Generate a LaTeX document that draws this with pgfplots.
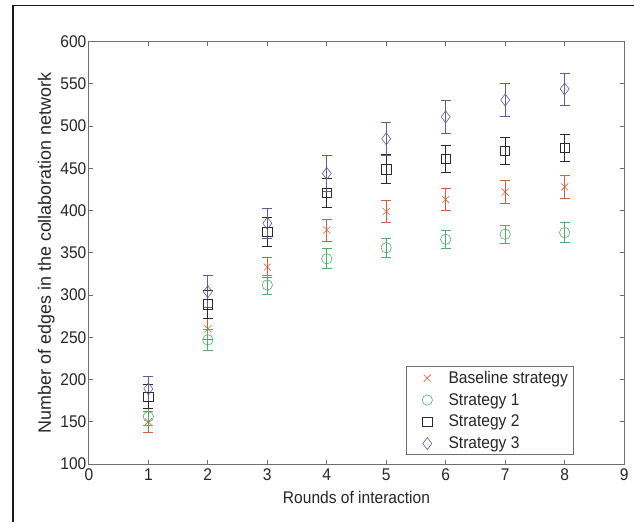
\documentclass[border=0pt]{standalone}
\usepackage{pgfplots}
\pgfplotsset{compat=1.18}
\usepackage{fontspec}
\setmainfont{Liberation Sans}[FakeStretch=0.92]
\newfontfamily\ylabfont{Liberation Sans}
\usetikzlibrary{calc}

\definecolor{cBase}{HTML}{D2603A}
\definecolor{cS1}{HTML}{4FAE6C}
\definecolor{cS2}{HTML}{2A2A2A}
\definecolor{cS3}{HTML}{675896}
\definecolor{axgray}{HTML}{6E6E6E}

\begin{document}
\begin{tikzpicture}
\begin{axis}[
    name=ax,
    scale only axis,
    width=536bp, height=423bp,
    xmin=0, xmax=9,
    ymin=100, ymax=600,
    xtick={0,1,...,9},
    ytick={100,150,...,600},
    tick align=inside,
    major tick length=4bp,
    axis line style={axgray, line width=0.9pt},
    tick style={axgray, line width=0.8pt},
    every tick label/.append style={font=\fontsize{17}{19}\selectfont, text=black!85},
    xticklabel style={yshift=-1.5bp},
    yticklabel style={xshift=1bp},
    /pgf/number format/assume math mode=true,
    xlabel={Rounds of interaction},
    ylabel={Number of edges in the collaboration network},
    xlabel style={font=\fontsize{17}{19}\selectfont, text=black!85, yshift=-3bp},
    ylabel style={font=\ylabfont\fontsize{18}{19}\selectfont, text=black!85, yshift=-1bp},
    legend style={at={(0.907,0.021)}, anchor=south east,
        draw=axgray, line width=0.9pt,
        font=\fontsize{17}{19.5}\selectfont, text=black!85,
        row sep=4.5bp, inner xsep=4bp, inner ysep=2.5bp},
    legend cell align=left,
    legend image code/.code={%
        \path (0bp,0bp) (36bp,0bp);
        \draw[mark repeat=2,mark phase=2,#1,only marks]
            plot coordinates {(0bp,0bp) (17bp,0bp) (34bp,0bp)};},
    error bars/y dir=both,
    error bars/y explicit,
    error bars/error bar style={line width=0.8pt},
    error bars/error mark options={rotate=90, mark size=5bp, line width=0.8pt},
]

\addplot[only marks, color=cBase, mark=x, mark size=5bp, line width=0.6pt]
    coordinates {
    (1,150) +- (0,12)
    (2,260) +- (0,12)
    (3,333) +- (0,12)
    (4,377) +- (0,13)
    (5,399) +- (0,13)
    (6,413) +- (0,13)
    (7,422) +- (0,14)
    (8,428) +- (0,14)
    };

\addplot[only marks, color=cS1, mark=o, mark size=5.2bp, line width=0.6pt]
    coordinates {
    (1,156) +- (0,10)
    (2,247) +- (0,12)
    (3,312) +- (0,11)
    (4,343) +- (0,12)
    (5,356) +- (0,11)
    (6,366) +- (0,11)
    (7,372) +- (0,11)
    (8,374) +- (0,12)
    };

\addplot[only marks, color=cS2, mark=square, mark size=4.6bp, line width=0.6pt]
    coordinates {
    (1,180) +- (0,14)
    (2,289) +- (0,17)
    (3,375) +- (0,17)
    (4,421) +- (0,17)
    (5,449) +- (0,17)
    (6,461) +- (0,16)
    (7,471) +- (0,16)
    (8,474) +- (0,16)
    };

\addplot[only marks, color=cS3, mark=diamond, mark size=6bp, line width=0.6pt]
    coordinates {
    (1,189) +- (0,15)
    (2,304) +- (0,19)
    (3,385) +- (0,18)
    (4,444) +- (0,21)
    (5,485) +- (0,20)
    (6,511) +- (0,20)
    (7,531) +- (0,20)
    (8,544) +- (0,19)
    };

\legend{Baseline strategy, Strategy 1, Strategy 2, Strategy 3}
\end{axis}

% outer frame of the original figure
\draw[black!90, line width=1.8bp]
    ($(ax.south west)+(-76bp,-58bp)$) |- ($(ax.north east)+(10bp,36.2bp)$);
\path[use as bounding box]
    ($(ax.south west)+(-89bp,-58bp)$) rectangle ($(ax.north east)+(10bp,41.7bp)$);
\end{tikzpicture}
\end{document}
